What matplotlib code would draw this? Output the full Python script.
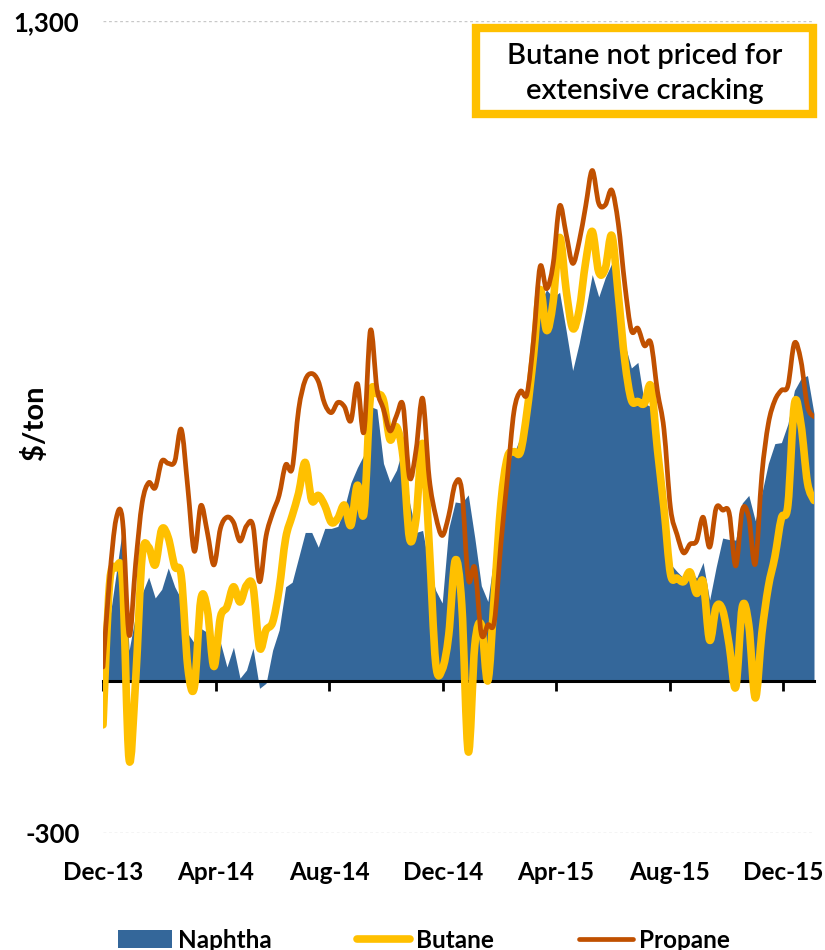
import numpy as np
import pandas as pd
import matplotlib
matplotlib.use("Agg")
import matplotlib.pyplot as plt
import matplotlib.dates as mdates
from matplotlib.path import Path
from matplotlib.patches import PathPatch, Rectangle, Patch
from matplotlib.lines import Line2D

# Weekly cracking margins, $/ton
weeks = pd.date_range("2013-12-01", periods=110, freq="7D")

naphtha = [
    -10, 120, 210, 300, 60, 130, 172, 204, 163, 180,
    222, 185, 160, 93, 74, 103, 95, 30, 75, 27,
    66, 5, 21, 64, -15, -5, 60, 100, 185, 194,
    243, 292, 292, 263, 300, 300, 304, 340, 390, 420,
    445, 540, 535, 428, 391, 415, 460, 350, 292, 296,
    224, 178, 153, 300, 352, 350, 366, 281, 187, 156,
    250, 330, 440, 448, 480, 540, 640, 745, 770, 755,
    765, 690, 611, 665, 730, 800, 756, 794, 822, 702,
    663, 616, 627, 546, 540, 440, 330, 230, 215, 202,
    218, 202, 233, 159, 224, 281, 278, 277, 350, 365,
    315, 369, 428, 467, 469, 506, 572, 595, 601, 526,
]

butane = [
    -87, 190, 222, 195, -155, 0, 245, 263, 228, 298,
    282, 225, 206, 27, -13, 160, 140, 28, 125, 145,
    185, 155, 188, 185, 65, 100, 115, 180, 280, 325,
    370, 430, 355, 365, 345, 312, 320, 346, 306, 385,
    330, 560, 565, 552, 475, 500, 440, 280, 320, 467,
    270, 35, 22, 90, 237, 150, -140, 70, 110, 0,
    170, 350, 440, 451, 451, 530, 640, 770, 690, 745,
    873, 770, 694, 730, 825, 885, 805, 812, 877, 760,
    630, 553, 550, 546, 580, 455, 340, 210, 202, 195,
    214, 172, 195, 80, 145, 139, 70, -13, 145, 110,
    -34, 93, 185, 244, 320, 346, 545, 505, 390, 355,
]

propane = [
    27, 200, 318, 315, 90, 230, 350, 390, 380, 432,
    428, 432, 495, 380, 255, 345, 292, 228, 300, 322,
    312, 275, 305, 305, 195, 285, 330, 365, 425, 418,
    535, 592, 605, 590, 545, 528, 548, 540, 512, 585,
    490, 690, 575, 535, 492, 522, 542, 400, 455, 556,
    400, 325, 286, 325, 388, 375, 200, 222, 92, 110,
    117, 270, 400, 530, 570, 565, 670, 815, 772, 820,
    935, 880, 822, 865, 935, 1005, 940, 937, 966, 900,
    780, 690, 694, 660, 665, 570, 495, 340, 288, 252,
    269, 275, 322, 263, 340, 336, 330, 226, 336, 322,
    230, 405, 506, 552, 572, 581, 665, 630, 540, 520,
]

tick_dates = pd.to_datetime(["2013-12-01", "2014-04-01", "2014-08-01", "2014-12-01",
                             "2015-04-01", "2015-08-01", "2015-12-01"])
y_ticks = [-300, 1300]
y_tick_labels = ["-300", "1,300"]

NAPHTHA_C = "#34679A"
BUTANE_C = "#FFC000"
PROPANE_C = "#C05000"
FONT = "Lato"

plt.rcParams["font.family"] = [FONT, "DejaVu Sans"]


def smooth_line(ax, x, y, color, lw, z):
    """Draw a smoothed (Bezier) line through the points, like a spreadsheet smoothed series."""
    pts = np.column_stack([x, y]).astype(float)
    n = len(pts)
    verts = [pts[0]]
    codes = [Path.MOVETO]
    for i in range(n - 1):
        p0 = pts[i - 1] if i > 0 else pts[i]
        p1 = pts[i]
        p2 = pts[i + 1]
        p3 = pts[i + 2] if i + 2 < n else pts[i + 1]
        verts += [p1 + (p2 - p0) / 6.0, p2 - (p3 - p1) / 6.0, p2]
        codes += [Path.CURVE4] * 3
    patch = PathPatch(Path(verts, codes), fill=False, edgecolor=color, lw=lw,
                      capstyle="round", joinstyle="round", zorder=z)
    ax.add_patch(patch)


fig = plt.figure(figsize=(8.25, 9.5), dpi=100)
ax = fig.add_axes([103 / 825, 1 - 833 / 950, 711 / 825, (833 - 20.7) / 950])

ax.fill_between(weeks, 0, naphtha, color=NAPHTHA_C, lw=0, zorder=1)
xnum = mdates.date2num(weeks)
smooth_line(ax, xnum, butane, BUTANE_C, 5.5, 3)
smooth_line(ax, xnum, propane, PROPANE_C, 3.4, 4)

ax.set_xlim(weeks[0], weeks[-1])
ax.set_ylim(-300, 1300)

for side in ["left", "right", "top"]:
    ax.spines[side].set_visible(False)
ax.spines["bottom"].set_position(("data", 0))
ax.spines["bottom"].set_linewidth(2.2)
ax.spines["bottom"].set_zorder(2.5)

ax.set_xticks(tick_dates)
ax.tick_params(axis="x", direction="out", length=7, width=2, labelbottom=False)

ax.set_yticks(y_ticks)
ax.set_yticklabels(y_tick_labels)
ax.tick_params(axis="y", length=0, pad=17, labelsize=18.5)
for lab in ax.get_yticklabels():
    lab.set_fontweight("bold")
ax.yaxis.grid(True, linestyle=(0, (2, 2)), color="#C8C8C8", lw=1)
ax.set_axisbelow(True)

ax.set_ylabel("$/ton", fontsize=21, fontweight="bold")
ax.yaxis.set_label_coords(-0.078, 0.505)

sec = ax.secondary_xaxis("bottom")
sec.set_xticks(tick_dates)
sec.xaxis.set_major_formatter(mdates.DateFormatter("%b-%y"))
sec.tick_params(length=0, pad=20, labelsize=17.5)
for lab in sec.get_xticklabels():
    lab.set_fontweight("bold")
sec.spines["bottom"].set_visible(False)

# Legend
handles = [
    Patch(facecolor=NAPHTHA_C, edgecolor="none"),
    Line2D([], [], color=BUTANE_C, lw=5.5, solid_capstyle="round"),
    Line2D([], [], color=PROPANE_C, lw=3.4, solid_capstyle="round"),
]
fig.legend(handles, ["Naphtha", "Butane", "Propane"], loc="center",
           bbox_to_anchor=(0.514, 1 - 940 / 950), ncol=3, frameon=False,
           handlelength=2.2, handletextpad=0.25, columnspacing=3.5,
           prop={"family": FONT, "weight": "bold", "size": 17.5})

# Callout box
box = Rectangle((476 / 825, 1 - 114 / 950), 337 / 825, 86 / 950,
                transform=fig.transFigure, facecolor="white",
                edgecolor=BUTANE_C, lw=6, zorder=10)
fig.add_artist(box)
fig.text(644.5 / 825, 1 - 64 / 950, "Butane not priced for", ha="center",
         va="baseline", fontsize=21, fontweight="semibold", zorder=11)
fig.text(644.5 / 825, 1 - 99 / 950, "extensive cracking", ha="center",
         va="baseline", fontsize=21, fontweight="semibold", zorder=11)

fig.savefig("out.png", dpi=100)
